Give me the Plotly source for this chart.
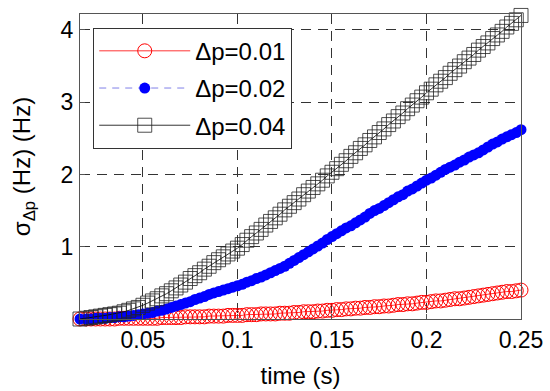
import plotly.graph_objects as go

time_s = [
    0.0167, 0.0200, 0.0225, 0.0250, 0.0275, 0.0300, 0.0325, 0.0350, 0.0375, 0.0400,
    0.0425, 0.0450, 0.0475, 0.0500, 0.0525, 0.0550, 0.0575, 0.0600, 0.0625, 0.0650,
    0.0675, 0.0700, 0.0725, 0.0750, 0.0775, 0.0800, 0.0825, 0.0850, 0.0875, 0.0900,
    0.0925, 0.0950, 0.0975, 0.1000, 0.1025, 0.1050, 0.1075, 0.1100, 0.1125, 0.1150,
    0.1175, 0.1200, 0.1225, 0.1250, 0.1275, 0.1300, 0.1325, 0.1350, 0.1375, 0.1400,
    0.1425, 0.1450, 0.1475, 0.1500, 0.1525, 0.1550, 0.1575, 0.1600, 0.1625, 0.1650,
    0.1675, 0.1700, 0.1725, 0.1750, 0.1775, 0.1800, 0.1825, 0.1850, 0.1875, 0.1900,
    0.1925, 0.1950, 0.1975, 0.2000, 0.2025, 0.2050, 0.2075, 0.2100, 0.2125, 0.2150,
    0.2175, 0.2200, 0.2225, 0.2250, 0.2275, 0.2300, 0.2325, 0.2350, 0.2375, 0.2400,
    0.2425, 0.2450, 0.2475, 0.2500,
]

sigma_dp001 = [
    0.00, 0.00, 0.00, 0.00, 0.00, 0.00, 0.00, 0.00, 0.01, 0.01,
    0.01, 0.01, 0.01, 0.01, 0.01, 0.01, 0.01, 0.02, 0.02, 0.02,
    0.02, 0.02, 0.03, 0.03, 0.03, 0.03, 0.03, 0.04, 0.04, 0.04,
    0.04, 0.05, 0.05, 0.05, 0.05, 0.06, 0.06, 0.06, 0.07, 0.07,
    0.07, 0.07, 0.08, 0.08, 0.08, 0.09, 0.09, 0.10, 0.10, 0.10,
    0.11, 0.11, 0.12, 0.12, 0.13, 0.13, 0.14, 0.14, 0.15, 0.15,
    0.16, 0.16, 0.17, 0.17, 0.18, 0.18, 0.19, 0.20, 0.20, 0.21,
    0.21, 0.22, 0.23, 0.23, 0.24, 0.25, 0.25, 0.26, 0.27, 0.28,
    0.28, 0.29, 0.30, 0.31, 0.32, 0.33, 0.34, 0.35, 0.36, 0.37,
    0.38, 0.38, 0.39, 0.40,
]

sigma_dp002 = [
    0.00, 0.00, 0.00, 0.01, 0.01, 0.01, 0.02, 0.02, 0.03, 0.03,
    0.04, 0.05, 0.06, 0.07, 0.08, 0.09, 0.11, 0.12, 0.14, 0.16,
    0.18, 0.20, 0.22, 0.24, 0.27, 0.29, 0.31, 0.34, 0.36, 0.38,
    0.40, 0.42, 0.44, 0.46, 0.48, 0.51, 0.53, 0.56, 0.58, 0.61,
    0.64, 0.67, 0.70, 0.73, 0.77, 0.81, 0.85, 0.89, 0.93, 0.97,
    1.01, 1.05, 1.10, 1.14, 1.18, 1.22, 1.26, 1.29, 1.33, 1.37,
    1.41, 1.46, 1.50, 1.53, 1.57, 1.61, 1.65, 1.69, 1.72, 1.77,
    1.80, 1.84, 1.88, 1.92, 1.95, 1.99, 2.03, 2.07, 2.10, 2.13,
    2.17, 2.20, 2.24, 2.27, 2.30, 2.34, 2.38, 2.42, 2.45, 2.49,
    2.52, 2.55, 2.58, 2.62,
]

sigma_dp004 = [
    0.00, 0.01, 0.02, 0.03, 0.04, 0.05, 0.06, 0.07, 0.08, 0.10,
    0.12, 0.14, 0.16, 0.19, 0.22, 0.25, 0.28, 0.32, 0.35, 0.39,
    0.43, 0.47, 0.51, 0.56, 0.60, 0.64, 0.69, 0.73, 0.78, 0.82,
    0.86, 0.90, 0.94, 0.98, 1.03, 1.09, 1.14, 1.19, 1.24, 1.30,
    1.35, 1.40, 1.45, 1.51, 1.56, 1.61, 1.66, 1.72, 1.77, 1.82,
    1.87, 1.92, 1.98, 2.03, 2.08, 2.14, 2.19, 2.25, 2.30, 2.36,
    2.41, 2.47, 2.52, 2.58, 2.63, 2.69, 2.74, 2.80, 2.85, 2.91,
    2.96, 3.02, 3.07, 3.13, 3.18, 3.24, 3.29, 3.34, 3.40, 3.45,
    3.50, 3.56, 3.61, 3.66, 3.72, 3.77, 3.82, 3.88, 3.93, 3.98,
    4.04, 4.09, 4.14, 4.20,
]

series_names = ["Δp=0.01", "Δp=0.02", "Δp=0.04"]
x_tick_vals = [0.05, 0.1, 0.15, 0.2, 0.25]
x_tick_text = ["0.05", "0.1", "0.15", "0.2", "0.25"]
y_tick_vals = [1, 2, 3, 4]
y_tick_text = ["1", "2", "3", "4"]

assert len(time_s) == len(sigma_dp001) == len(sigma_dp002) == len(sigma_dp004)

FONT = "Liberation Sans, Arial, sans-serif"

fig = go.Figure()
fig.add_trace(go.Scatter(
    x=time_s, y=sigma_dp001, name=series_names[0], legendgroup="a",
    mode="lines+markers", cliponaxis=False,
    line=dict(color="red", width=0.8),
    marker=dict(symbol="circle-open", size=14, color="red", line=dict(width=1)),
))
fig.add_trace(go.Scatter(
    x=time_s, y=sigma_dp002, name=series_names[1], legendgroup="b",
    mode="lines+markers", cliponaxis=False,
    line=dict(color="#8080e8", width=1, dash="7px,6px"),
    marker=dict(symbol="circle", size=11, color="#0000ff", line=dict(width=0)),
))
fig.add_trace(go.Scatter(
    x=time_s, y=sigma_dp004, name=series_names[2], legendgroup="c",
    mode="lines+markers", cliponaxis=False,
    line=dict(color="black", width=0.8),
    marker=dict(symbol="square-open", size=14, color="#222222", line=dict(width=0.8)),
))

fig.update_layout(
    width=550, height=391,
    margin=dict(l=80, r=29, t=14, b=72),
    paper_bgcolor="white", plot_bgcolor="white",
    font=dict(family=FONT, size=23, color="black"),
    showlegend=True,
    legend=dict(
        x=0.03, y=0.955, xanchor="left", yanchor="top",
        bgcolor="white", bordercolor="#333333", borderwidth=1,
        font=dict(family=FONT, size=24, color="black"),
        traceorder="grouped", tracegroupgap=3, itemwidth=91,
    ),
    xaxis=dict(
        range=[0.0167, 0.25], tickvals=x_tick_vals, ticktext=x_tick_text,
        automargin=False,
        showgrid=True, gridcolor="#333333", griddash="10px,7px", gridwidth=1,
        zeroline=False, showline=True, linecolor="#555555", linewidth=1, mirror=True,
        ticks="inside", ticklen=5, tickcolor="#555555", ticklabelstandoff=0,
        title=dict(text="time (s)", font=dict(family=FONT, size=24), standoff=15),
    ),
    yaxis=dict(
        range=[0, 4.22], tickvals=y_tick_vals, ticktext=y_tick_text,
        automargin=False,
        showgrid=True, gridcolor="#333333", griddash="10px,7px", gridwidth=1,
        zeroline=False, showline=True, linecolor="#555555", linewidth=1, mirror=True,
        ticks="inside", ticklen=5, tickcolor="#555555", ticklabelstandoff=1,
        title=dict(text="σ<sub>Δp</sub> (Hz) (Hz)", font=dict(family=FONT, size=24), standoff=23),
    ),
)

fig.write_html(
    "out.html",
    config={"displayModeBar": False},
    post_script="document.body.style.margin='0';",
)
